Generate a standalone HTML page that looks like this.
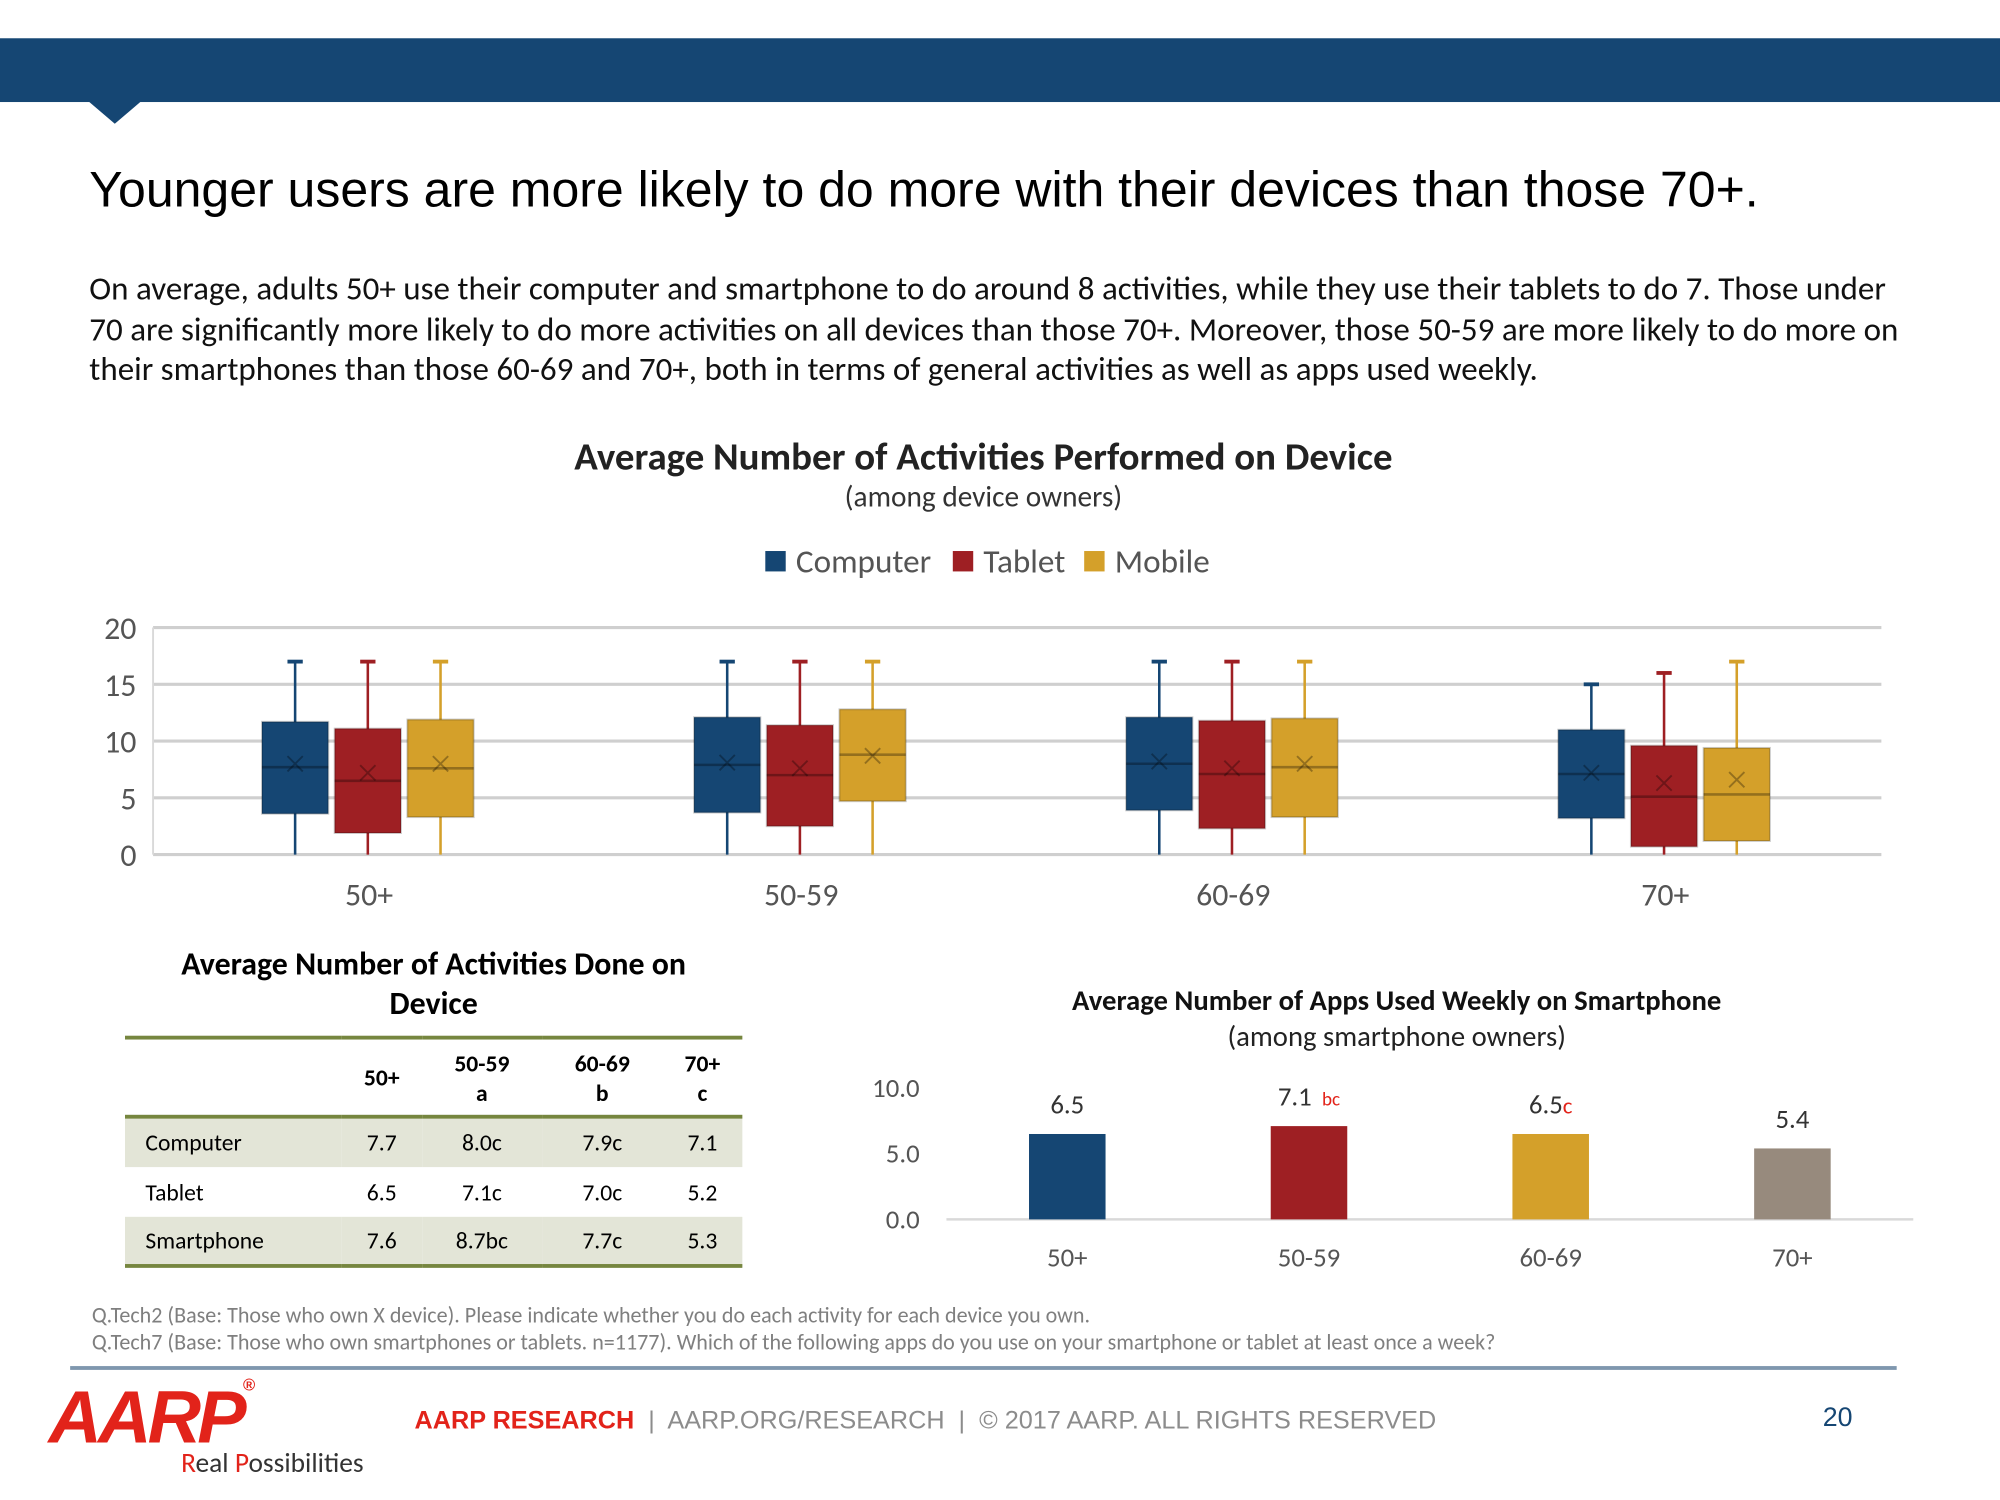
<!DOCTYPE html>
<html><head><meta charset="utf-8">
<style>
html,body{margin:0;padding:0;background:#fff;overflow:hidden;width:2000px;height:1500px}
#wrap{position:absolute;left:0;top:0;width:1568px;height:1176px;transform:scale(1.27551);transform-origin:0 0;font-family:"Liberation Sans",sans-serif}
.c{font-family:"Carlito","Liberation Sans",sans-serif}
.abs{position:absolute}
table{border-collapse:collapse}
</style></head><body>
<div id="wrap">
<div class="abs" style="left:0;top:30px;width:1568px;height:50px;background:#154673"></div>
<div class="abs" style="left:70px;top:80px;width:0;height:0;border-left:20px solid transparent;border-right:20px solid transparent;border-top:17px solid #154673"></div>
<div class="abs" style="left:70px;top:128px;font-size:39.2px;color:#000">Younger users are more likely to do more with their devices than those 70+.</div>
<div class="abs c" style="left:70px;top:211px;width:1440px;font-size:25.9px;line-height:31.5px;color:#111">On average, adults 50+ use their computer and smartphone to do around 8 activities, while they use their tablets to do 7. Those under 70 are significantly more likely to do more activities on all devices than those 70+. Moreover, those 50-59 are more likely to do more on their smartphones than those 60-69 and 70+, both in terms of general activities as well as apps used weekly.</div>

<svg class="abs" style="left:0;top:0" width="1568" height="1176">
<g id="box"></g>
<g id="bar"></g>
</svg>

<div class="abs c" style="left:110px;top:740px;width:460px;text-align:center;font-size:25px;font-weight:bold;line-height:31px">Average Number of Activities Done on Device</div>
<table class="abs c" style="left:98px;top:812px;width:484px;font-size:18.5px;border-top:3px solid #76863F;border-bottom:3px solid #76863F">
<tr style="height:62px;font-weight:bold;text-align:center;border-bottom:3px solid #76863F"><td style="width:168px"></td><td>50+</td><td>50-59<br>a</td><td>60-69<br>b</td><td>70+<br>c</td></tr>
<tr style="height:39px;background:#E3E5D7;text-align:center"><td style="text-align:left;padding-left:16px">Computer</td><td>7.7</td><td>8.0c</td><td>7.9c</td><td>7.1</td></tr>
<tr style="height:39px;text-align:center"><td style="text-align:left;padding-left:16px">Tablet</td><td>6.5</td><td>7.1c</td><td>7.0c</td><td>5.2</td></tr>
<tr style="height:39px;background:#E3E5D7;text-align:center"><td style="text-align:left;padding-left:16px">Smartphone</td><td>7.6</td><td>8.7bc</td><td>7.7c</td><td>5.3</td></tr>
</table>

<div class="abs c" style="left:72px;top:1021px;font-size:17.3px;color:#7f7f7f">Q.Tech2 (Base: Those who own X device). Please indicate whether you do each activity for each device you own.</div>
<div class="abs c" style="left:72px;top:1042px;font-size:17.3px;color:#7f7f7f">Q.Tech7 (Base: Those who own smartphones or tablets. n=1177). Which of the following apps do you use on your smartphone or tablet at least once a week?</div>
<div class="abs" style="left:55px;top:1071px;width:1432px;height:3px;background:#7F97AE"></div>
<div class="abs" style="left:38px;top:1078px;font-size:58px;font-weight:bold;font-style:italic;color:#E2231A;letter-spacing:-3px">AARP<span style="font-size:13px;vertical-align:top">®</span></div>
<div class="abs c" style="left:142px;top:1134px;font-size:21.5px;color:#333"><span style="color:#E2231A">R</span>eal <span style="color:#E2231A">P</span>ossibilities</div>
<div class="abs" style="left:325px;top:1103px;font-size:19.8px;color:#8c8c8c"><b style="color:#E2231A">AARP RESEARCH</b> &nbsp;|&nbsp; AARP.ORG/RESEARCH &nbsp;|&nbsp; © 2017 AARP. ALL RIGHTS RESERVED</div>
<div class="abs" style="left:1429px;top:1100px;font-size:21px;color:#154673">20</div>
</div>
<script>
const NS='http://www.w3.org/2000/svg';
const groups=['50+','50-59','60-69','70+'];
const devices=['Computer','Tablet','Mobile'];
const colors=['#154673','#9E1F23','#D4A02A'];
const lowW=[[0,0,0],[0,0,0],[0,0,0],[0,0,0]];
const q1=[[3.6,1.9,3.3],[3.7,2.5,4.7],[3.9,2.3,3.3],[3.2,0.7,1.2]];
const med=[[7.7,6.5,7.6],[7.9,7.0,8.8],[8.0,7.1,7.7],[7.1,5.1,5.3]];
const q3=[[11.7,11.1,11.9],[12.1,11.4,12.8],[12.1,11.8,12.0],[11.0,9.6,9.4]];
const highW=[[17,17,17],[17,17,17],[17,17,17],[15,16,17]];
const means=[[8.0,7.2,8.0],[8.1,7.6,8.7],[8.2,7.6,8.0],[7.2,6.3,6.6]];
const yTicks=[0,5,10,15,20];
const appCats=['50+','50-59','60-69','70+'];
const appVals=[6.5,7.1,6.5,5.4];
const appLabels=['6.5','7.1','6.5','5.4'];
const appSig=['','bc','c',''];
const appColors=['#154673','#9E1F23','#D4A02A','#978A7D'];
const appTicks=[0,5,10];
function mk(p,t,a,txt){const e=document.createElementNS(NS,t);for(const k in a)e.setAttribute(k,a[k]);if(txt!==undefined)e.textContent=txt;p.appendChild(e);return e;}
const F='Carlito, Liberation Sans, sans-serif';
const box=document.getElementById('box');
const X0=120,X1=1475,Y0=670,Y1=492;
const y=v=>Y0-(v/20)*(Y0-Y1);
const gw=(X1-X0)/groups.length;
let t=mk(box,'text',{x:771,y:368,'text-anchor':'middle','font-size':30.5,'font-weight':'bold','font-family':F,fill:'#222'},'Average Number of Activities Performed on Device');

t=mk(box,'text',{x:771,y:397,'text-anchor':'middle','font-size':23,'font-family':F,fill:'#333'},'(among device owners)');

let lx=600;
devices.forEach((d,i)=>{const g=mk(box,'g',{});

mk(g,'rect',{x:lx,y:432,width:16,height:16,fill:colors[i]});
mk(g,'text',{x:lx+24,y:449,'font-size':26,'font-family':F,fill:'#555'},d);
lx+= [147,103,0][i];});
yTicks.forEach(v=>{const l=mk(box,'line',{x1:X0,x2:X1,y1:y(v),y2:y(v),stroke:'#cfcfcf','stroke-width':2.5});

const tx=mk(box,'text',{x:107,y:y(v)+9,'text-anchor':'end','font-size':25,'font-family':F,fill:'#555'},v);
});
mk(box,'line',{x1:X0,x2:X0,y1:Y1,y2:Y0,stroke:'#d9d9d9','stroke-width':1.5});
groups.forEach((g,gi)=>{const cx=X0+gw*(gi+0.5);
const lb=mk(box,'text',{x:cx,y:710,'text-anchor':'middle','font-size':25,'font-family':F,fill:'#555'},g);

devices.forEach((d,di)=>{const bx=cx+(di-1)*57-1,w=52,c=colors[di];
const G=mk(box,'g',{});

mk(G,'line',{x1:bx,x2:bx,y1:y(highW[gi][di]),y2:y(lowW[gi][di]),stroke:c,'stroke-width':2});
mk(G,'line',{x1:bx-6,x2:bx+6,y1:y(highW[gi][di]),y2:y(highW[gi][di]),stroke:c,'stroke-width':3});
mk(G,'rect',{x:bx-w/2,y:y(q3[gi][di]),width:w,height:y(q1[gi][di])-y(q3[gi][di]),fill:c,stroke:'rgba(0,0,0,0.2)','stroke-width':1.5});
mk(G,'line',{x1:bx-w/2,x2:bx+w/2,y1:y(med[gi][di]),y2:y(med[gi][di]),stroke:'rgba(0,0,0,0.3)','stroke-width':2});
const my=y(means[gi][di]);
mk(G,'path',{d:`M${bx-6} ${my-6}L${bx+6} ${my+6}M${bx+6} ${my-6}L${bx-6} ${my+6}`,stroke:'rgba(0,0,0,0.3)','stroke-width':1.5});
});});
const bar=document.getElementById('bar');
const BX0=742,BX1=1500,BY0=956,BY1=853;
const by=v=>BY0-(v/10)*(BY0-BY1);
t=mk(bar,'text',{x:1095,y:792,'text-anchor':'middle','font-size':22.5,'font-weight':'bold','font-family':F,fill:'#111'},'Average Number of Apps Used Weekly on Smartphone');

t=mk(bar,'text',{x:1095,y:820,'text-anchor':'middle','font-size':22.5,'font-family':F,fill:'#222'},'(among smartphone owners)');

appTicks.forEach(v=>{const tx=mk(bar,'text',{x:721,y:by(v)+7,'text-anchor':'end','font-size':21,'font-family':F,fill:'#555'},v.toFixed(1));
});
const ax=mk(bar,'line',{x1:BX0,x2:BX1,y1:BY0,y2:BY0,stroke:'#d9d9d9','stroke-width':2});

const bw=(BX1-BX0)/appCats.length;
appCats.forEach((c,i)=>{const cx=742+bw*(i+0.5);
const r=mk(bar,'rect',{x:cx-30,y:by(appVals[i]),width:60,height:BY0-by(appVals[i]),fill:appColors[i]});

const vl=mk(bar,'text',{x:cx,y:by(appVals[i])-16,'text-anchor':'middle','font-size':21,'font-family':F,fill:'#333'},appLabels[i]);

if(appSig[i]){mk(vl,'tspan',{fill:'#E2231A','font-size':i==1?15:18,dx:i==1?8:0},appSig[i]);}
const xl=mk(bar,'text',{x:cx,y:993,'text-anchor':'middle','font-size':21,'font-family':F,fill:'#555'},c);

});
</script>
</body></html>
